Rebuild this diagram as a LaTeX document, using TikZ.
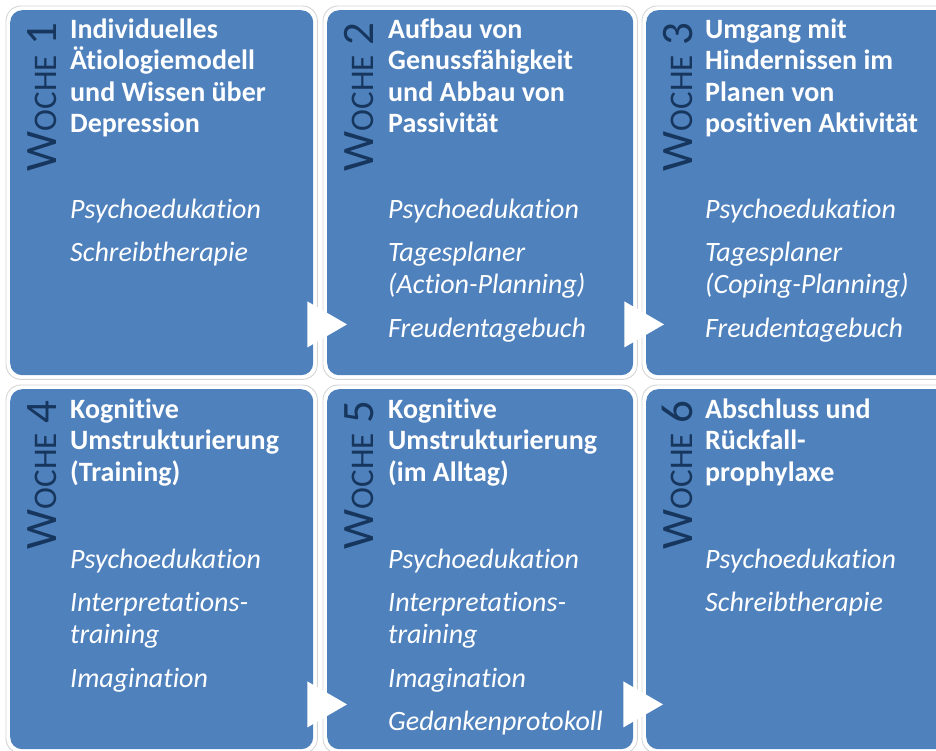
\documentclass[tikz,border=0pt]{standalone}
\usepackage{fontspec}
\setmainfont{Carlito}[Ligatures=NoCommon]
\usetikzlibrary{calc}
\definecolor{boxblue}{HTML}{4F81BD}
\definecolor{navy}{HTML}{17365D}
\definecolor{rimgray}{HTML}{D4D4D4}
\newcommand{\wk}[1]{{\fontsize{45}{45}\selectfont W}{\fontsize{33}{33}\selectfont OCHE}{\fontsize{45}{45}\selectfont\ #1}}
\begin{document}
\begin{tikzpicture}[x=1pt,y=-1pt,
  wbox/.style={rectangle, rounded corners=12pt, fill=boxblue, inner sep=0pt, anchor=north west},
  rim/.style={draw=rimgray, line width=0.9pt, rounded corners=15pt},
  woche/.style={rotate=90, anchor=base east, inner sep=0pt, text=navy},
  ttl/.style={anchor=north west, inner sep=0pt, align=left, text=white, font=\fontsize{28}{31.5}\selectfont\bfseries},
  itm/.style={anchor=north west, inner sep=0pt, align=left, text=white, font=\fontsize{28}{32}\selectfont\itshape},
  tri/.style={fill=white}]
\useasboundingbox (0,0) rectangle (936,751);
\clip (0,0) rectangle (936,751);
% boxes
\node[wbox, minimum width=303pt, minimum height=365pt] (w1) at (10,10) {};
\node[wbox, minimum width=306pt, minimum height=365pt] (w2) at (327,10) {};
\node[wbox, minimum width=304pt, minimum height=365pt] (w3) at (646,10) {};
\node[wbox, minimum width=303pt, minimum height=360pt] (w4) at (10,389) {};
\node[wbox, minimum width=306pt, minimum height=360pt] (w5) at (327,389) {};
\node[wbox, minimum width=304pt, minimum height=360pt] (w6) at (646,389) {};
\foreach \b in {w1,w2,w3,w4,w5,w6}{
  \draw[rim] ($(\b.north west)+(-4,-4)$) rectangle ($(\b.south east)+(4,4)$);
}
% week labels
\node[woche] (l1) at ($(w1.north west)+(46,12)$) {\wk{1}};
\node[woche] (l2) at ($(w2.north west)+(46,12)$) {\wk{2}};
\node[woche] (l3) at ($(w3.north west)+(46,12)$) {\wk{3}};
\node[woche] (l4) at ($(w4.north west)+(46,11)$) {\wk{4}};
\node[woche] (l5) at ($(w5.north west)+(46,11)$) {\wk{5}};
\node[woche] (l6) at ($(w6.north west)+(46,11)$) {\wk{6}};
% titles
\node[ttl] (t1) at ($(w1.north west)+(60,4)$) {\rule{0pt}{24pt}Individuelles\\Ätiologiemodell\\und Wissen über\\Depression};
\node[ttl] (t2) at ($(w2.north west)+(61,4)$) {\rule{0pt}{24pt}Aufbau von\\Genussfähigkeit\\und Abbau von\\Passivität};
\node[ttl] (t3) at ($(w3.north west)+(59,4)$) {\rule{0pt}{24pt}Umgang mit\\Hindernissen im\\Planen von\\positiven Aktivität};
\node[ttl] (t4) at ($(w4.north west)+(60,5)$) {\rule{0pt}{24pt}Kognitive\\Umstrukturierung\\(Training)};
\node[ttl] (t5) at ($(w5.north west)+(61,5)$) {\rule{0pt}{24pt}Kognitive\\Umstrukturierung\\(im Alltag)};
\node[ttl] (t6) at ($(w6.north west)+(59,5)$) {\rule{0pt}{24pt}Abschluss und\\Rückfall-\\prophylaxe};
% items
\node[itm] (i1) at ($(w1.north west)+(60,184)$) {\rule{0pt}{24pt}Psychoedukation\\[11.5pt]Schreibtherapie};
\node[itm] (i2) at ($(w2.north west)+(61,184)$) {\rule{0pt}{24pt}Psychoedukation\\[11.5pt]Tagesplaner\\(Action-Planning)\\[11.5pt]Freudentagebuch};
\node[itm] (i3) at ($(w3.north west)+(59,184)$) {\rule{0pt}{24pt}Psychoedukation\\[11.5pt]Tagesplaner\\(Coping-Planning)\\[11.5pt]Freudentagebuch};
\node[itm] (i4) at ($(w4.north west)+(60,155)$) {\rule{0pt}{24pt}Psychoedukation\\[11.5pt]Interpretations-\\training\\[11.5pt]Imagination};
\node[itm] (i5) at ($(w5.north west)+(61,155)$) {\rule{0pt}{24pt}Psychoedukation\\[11.5pt]Interpretations-\\training\\[11.5pt]Imagination\\[11.5pt]Gedankenprotokoll};
\node[itm] (i6) at ($(w6.north west)+(59,155)$) {\rule{0pt}{24pt}Psychoedukation\\[11.5pt]Schreibtherapie};
% arrows
\fill[tri] ($(w1.south east)+(-6,-74)$) -- ($(w2.south west)+(20,-51)$) -- ($(w1.south east)+(-6,-28)$) -- cycle;
\fill[tri] ($(w2.south east)+(-9,-74)$) -- ($(w3.south west)+(18,-51)$) -- ($(w2.south east)+(-9,-28)$) -- cycle;
\fill[tri] ($(w4.south east)+(-6,-68)$) -- ($(w5.south west)+(20,-45)$) -- ($(w4.south east)+(-6,-22)$) -- cycle;
\fill[tri] ($(w5.south east)+(-10,-68)$) -- ($(w6.south west)+(17,-45)$) -- ($(w5.south east)+(-10,-22)$) -- cycle;
\end{tikzpicture}
\end{document}
